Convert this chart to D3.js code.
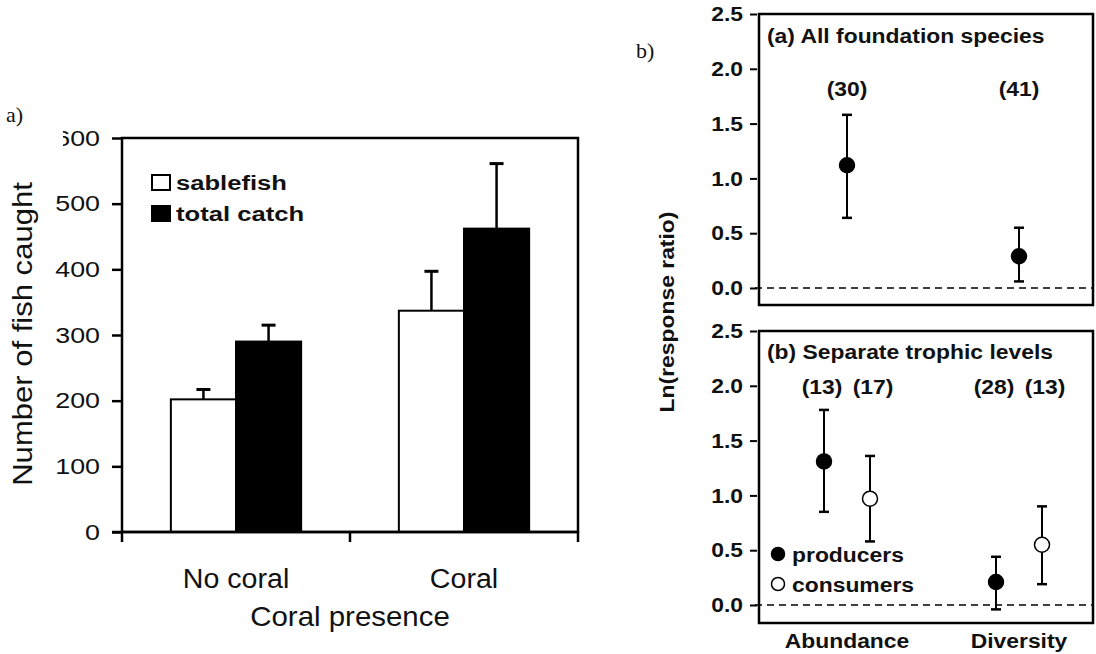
<!DOCTYPE html>
<html>
<head>
<meta charset="utf-8">
<script src="https://cdn.jsdelivr.net/npm/d3@7"></script>
<style>
  body { margin: 0; background: #fff; }
  svg { display: block; }
  text { font-family: "Liberation Sans", Arial, sans-serif; fill: #111; }
</style>
</head>
<body>
<div id="chart"></div>
<script>
const W = 1096, H = 654;

// panel a: fish caught
const groups = ['No coral', 'Coral'];
const seriesNames = ['sablefish', 'total catch'];
const sablefish = [202, 337];
const sablefishTop = [217, 397];
const totalCatch = [290, 462];
const totalTop = [315, 561];
const ticksA = [0, 100, 200, 300, 400, 500, 600];

// panel b: response ratios
const respCats = ['Abundance', 'Diversity'];
const allMean = [1.12, 0.29];
const allLow = [0.64, 0.06];
const allHigh = [1.58, 0.55];
const allN = ['(30)', '(41)'];
const prodMean = [1.31, 0.21];
const prodLow = [0.85, -0.04];
const prodHigh = [1.78, 0.44];
const prodN = ['(13)', '(28)'];
const consMean = [0.97, 0.55];
const consLow = [0.58, 0.19];
const consHigh = [1.36, 0.90];
const consN = ['(17)', '(13)'];
const ticksB = [0, 0.5, 1.0, 1.5, 2.0, 2.5];

const svg = d3.select('#chart').append('svg').attr('width', W).attr('height', H);

// the scanned figure has wide lettering: stretch text horizontally in its own frame
function stretch(sel, sx) {
  sel.each(function() {
    const t = d3.select(this);
    const x = +t.attr('x') || 0, y = +t.attr('y') || 0;
    const rot = t.attr('data-rot') || 0;
    t.attr('x', 0).attr('y', 0).attr('transform', `translate(${x},${y}) rotate(${rot}) scale(${sx},1)`);
  });
}

// ---------- panel a ----------
const aLeft = 122, aRight = 578, aTop = 138, aBottom = 532;
const ya = d3.scaleLinear().domain([0, 600]).range([aBottom, aTop]);
const x0 = d3.scaleBand().domain(groups).range([aLeft, aRight]);
const x1 = d3.scaleBand().domain(seriesNames).range([0, x0.bandwidth()]).paddingOuter(0.75);

const ga = svg.append('g');

const barData = groups.map((g, i) => [
  { g, s: 'sablefish', v: sablefish[i], top: sablefishTop[i] },
  { g, s: 'total catch', v: totalCatch[i], top: totalTop[i] },
]).flat();

// error bars (upper half only)
ga.selectAll('.err').data(barData).enter().append('g').each(function(d) {
  const cx = x0(d.g) + x1(d.s) + x1.bandwidth() / 2;
  const g = d3.select(this);
  g.append('line').attr('x1', cx).attr('x2', cx).attr('y1', ya(d.v)).attr('y2', ya(d.top))
    .attr('stroke', '#000').attr('stroke-width', 2.5);
  g.append('line').attr('x1', cx - 7).attr('x2', cx + 7).attr('y1', ya(d.top)).attr('y2', ya(d.top))
    .attr('stroke', '#000').attr('stroke-width', 3);
});

ga.selectAll('.bar').data(barData).enter().append('rect')
  .attr('x', (d) => x0(d.g) + x1(d.s))
  .attr('y', (d) => ya(d.v))
  .attr('width', x1.bandwidth())
  .attr('height', (d) => aBottom - ya(d.v))
  .attr('fill', (d) => d.s === 'sablefish' ? '#fff' : '#000')
  .attr('stroke', '#000').attr('stroke-width', 2);

// frame
ga.append('rect').attr('x', aLeft).attr('y', aTop).attr('width', aRight - aLeft).attr('height', aBottom - aTop)
  .attr('fill', 'none').attr('stroke', '#000').attr('stroke-width', 2.5);

// y axis
const yAxisA = ga.append('g').attr('transform', `translate(${aLeft},0)`)
  .call(d3.axisLeft(ya).tickValues(ticksA).tickSize(10).tickPadding(12));
yAxisA.select('.domain').remove();
yAxisA.selectAll('line').attr('stroke', '#000').attr('stroke-width', 2.5);
yAxisA.selectAll('text').style('font-size', '22px').style('font-family', '"Liberation Sans", Arial, sans-serif')
  .attr('fill', '#111').call(stretch, 1.22);
// the top label is partly hidden in the original
ga.append('rect').attr('x', 45).attr('y', aTop - 16).attr('width', 18).attr('height', 30).attr('fill', '#fff');

// x axis ticks at group boundaries
const xTicks = [aLeft, x0('Coral'), aRight];
ga.selectAll('.xt').data(xTicks).enter().append('line')
  .attr('x1', (d) => d).attr('x2', (d) => d).attr('y1', aBottom).attr('y2', aBottom + 10)
  .attr('stroke', '#000').attr('stroke-width', 2.5);
ga.append('line').attr('x1', aLeft - 10).attr('x2', aRight).attr('y1', aBottom).attr('y2', aBottom)
  .attr('stroke', '#000').attr('stroke-width', 2.5);

ga.selectAll('.xl').data(groups).enter().append('text')
  .attr('x', (d) => x0(d) + x0.bandwidth() / 2).attr('y', 588)
  .attr('text-anchor', 'middle').style('font-size', '27px').text((d) => d).call(stretch, 1.06);
ga.append('text').attr('x', (aLeft + aRight) / 2).attr('y', 626)
  .attr('text-anchor', 'middle').style('font-size', '27px').text('Coral presence').call(stretch, 1.09);
ga.append('text').attr('x', 32).attr('y', 334).attr('data-rot', -90)
  .attr('text-anchor', 'middle').style('font-size', '27px').text('Number of fish caught').call(stretch, 1.15);

// legend
const legA = ga.selectAll('.leg').data(seriesNames).enter().append('g')
  .attr('transform', (d, i) => `translate(152,${175 + i * 31})`);
legA.append('rect').attr('width', 18).attr('height', 15)
  .attr('fill', (d) => d === 'sablefish' ? '#fff' : '#000').attr('stroke', '#000').attr('stroke-width', 2);
legA.append('text').attr('x', 24).attr('y', 15).style('font-size', '21px').style('font-weight', 'bold')
  .text((d) => d).call(stretch, 1.22);

svg.append('text').attr('x', 6).attr('y', 122).style('font-family', '"Liberation Serif", "Times New Roman", serif')
  .style('font-size', '22px').text('a)');

// ---------- panel b ----------
const bLeft = 759, bRight = 1093;
const xb = d3.scaleBand().domain(respCats).range([761, 1105]);
const bx = (c) => xb(c) + xb.bandwidth() / 2;
const fsB = '21px', sxB = 1.09;

svg.append('text').attr('x', 636).attr('y', 58).style('font-family', '"Liberation Serif", "Times New Roman", serif')
  .style('font-size', '22px').text('b)');

function label(g, x, y, txt, anchor) {
  return g.append('text').attr('x', x).attr('y', y).attr('text-anchor', anchor || 'start')
    .style('font-size', fsB).style('font-weight', 'bold').text(txt).call(stretch, sxB);
}

function panelB(top, bottom, zeroY, title, titleY) {
  const y = d3.scaleLinear().domain([0, 2.5]).range([zeroY, top]);
  const g = svg.append('g');
  g.append('rect').attr('x', bLeft).attr('y', top).attr('width', bRight - bLeft).attr('height', bottom - top)
    .attr('fill', 'none').attr('stroke', '#000').attr('stroke-width', 2.5);
  const ax = g.append('g').attr('transform', `translate(${bLeft - 2},0)`)
    .call(d3.axisLeft(y).tickValues(ticksB).tickFormat(d3.format('.1f')).tickSize(7).tickPadding(7));
  ax.select('.domain').remove();
  ax.selectAll('line').attr('stroke', '#000').attr('stroke-width', 2);
  ax.selectAll('text').style('font-size', fsB).style('font-weight', 'bold')
    .style('font-family', '"Liberation Sans", Arial, sans-serif').attr('fill', '#111').call(stretch, sxB);
  g.append('line').attr('x1', bLeft - 4).attr('x2', bRight).attr('y1', y(0)).attr('y2', y(0))
    .attr('stroke', '#000').attr('stroke-width', 1.6).attr('stroke-dasharray', '7,5');
  label(g, 767, titleY, title);
  return { g, y };
}

function errPoint(g, y, cx, mean, low, high, filled, r) {
  g.append('line').attr('x1', cx).attr('x2', cx).attr('y1', y(low)).attr('y2', y(high))
    .attr('stroke', '#000').attr('stroke-width', 2);
  [low, high].forEach((v) => {
    g.append('line').attr('x1', cx - 5).attr('x2', cx + 5).attr('y1', y(v)).attr('y2', y(v))
      .attr('stroke', '#000').attr('stroke-width', 2.5);
  });
  g.append('circle').attr('cx', cx).attr('cy', y(mean)).attr('r', r)
    .attr('fill', filled ? '#000' : '#fff').attr('stroke', '#000').attr('stroke-width', 1.5);
}

// upper: all foundation species
const up = panelB(14, 305, 288, '(a) All foundation species', 43);
respCats.forEach((c, i) => {
  errPoint(up.g, up.y, bx(c), allMean[i], allLow[i], allHigh[i], true, 7.5);
  label(up.g, bx(c), 96, allN[i], 'middle');
});

// lower: separate trophic levels
const lo = panelB(331, 623, 605, '(b) Separate trophic levels', 359);
const off = 23;
respCats.forEach((c, i) => {
  errPoint(lo.g, lo.y, bx(c) - off, prodMean[i], prodLow[i], prodHigh[i], true, 7.5);
  errPoint(lo.g, lo.y, bx(c) + off, consMean[i], consLow[i], consHigh[i], false, 7.5);
  label(lo.g, bx(c) - off - 2, 394, prodN[i], 'middle');
  label(lo.g, bx(c) + off + 3, 394, consN[i], 'middle');
});

// lower legend
const legB = [['producers', true], ['consumers', false]];
legB.forEach(([name, filled], i) => {
  const cy = 554 + i * 30;
  lo.g.append('circle').attr('cx', 778).attr('cy', cy).attr('r', 6.5)
    .attr('fill', filled ? '#000' : '#fff').attr('stroke', '#000').attr('stroke-width', 1.5);
  label(lo.g, 792, cy + 8, name);
});

// category labels
respCats.forEach((c) => label(svg, bx(c), 648, c, 'middle'));

svg.append('text').attr('x', 674).attr('y', 312).attr('data-rot', -90)
  .attr('text-anchor', 'middle').style('font-size', fsB).style('font-weight', 'bold')
  .text('Ln(response ratio)').call(stretch, sxB);
</script>
</body>
</html>
